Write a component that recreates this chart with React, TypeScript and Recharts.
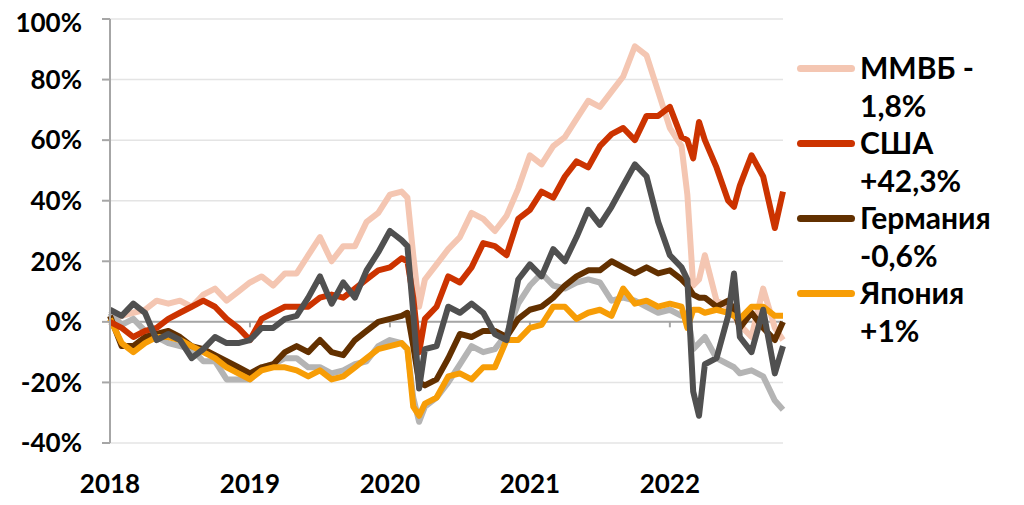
import { CartesianGrid, Line, LineChart, ReferenceLine, XAxis, YAxis } from "recharts";

// months since Jan 2018 (extra points around the two crashes)
const months = [0, 1, 2, 3, 4, 5, 6, 7, 8, 9, 10, 11, 12, 13, 14, 15, 16, 17, 18, 19, 20, 21, 22, 23, 24, 25, 25.5, 26, 26.5, 27, 28, 29, 30, 31, 32, 33, 34, 35, 36, 37, 38, 39, 40, 41, 42, 43, 44, 45, 46, 47, 48, 49, 49.5, 50, 50.5, 51, 52, 53, 53.5, 54, 55, 56, 57, 57.7];

const mmvb = [0, 2, 3, 4, 7, 6, 7, 5, 9, 11, 7, 10, 13, 15, 12, 16, 16, 22, 28, 20, 25, 25, 33, 36, 42, 43, 41, 22, 5, 14, 19, 24, 28, 36, 34, 30, 35, 44, 55, 52, 58, 61, 67, 73, 71, 76, 81, 91, 88, 76, 64, 58, 42, 12, 14, 22, 7, 5, 2, -1, -5, 11, -2, -6];
const usa = [0, -2, -5, -3, -2, 1, 3, 5, 7, 5, 1, -2, -6, 1, 3, 5, 5, 5, 8, 9, 8, 11, 14, 17, 18, 21, 20, 8, -10, 1, 5, 15, 13, 18, 26, 25, 22, 34, 37, 43, 41, 48, 53, 51, 58, 62, 64, 60, 68, 68, 71, 61, 60, 54, 66, 60, 51, 40, 38, 45, 55, 48, 31, 43];
const germany = [2, -8, -8, -5, -4, -3, -5, -8, -9, -11, -13, -15, -17, -15, -14, -10, -8, -10, -6, -10, -11, -6, -3, 0, 1, 2, 3, -8, -20, -21, -19, -12, -4, -5, -3, -3, -5, 1, 4, 5, 8, 12, 15, 17, 17, 20, 18, 16, 18, 16, 17, 14, 12, 9, 8, 8, 5, 7, 4, -2, 3, -2, -6, 0];
const japan = [1, -7, -10, -7, -5, -5, -6, -8, -10, -12, -15, -17, -19, -16, -15, -15, -16, -18, -16, -19, -18, -15, -12, -9, -8, -7, -9, -28, -31, -27, -25, -18, -17, -19, -15, -15, -6, -6, -2, -1, 5, 5, 1, 3, 4, 2, 11, 6, 7, 5, 6, 5, -2, 4, 4, 3, 4, 3, 2, 1, 5, 5, 2, 2];
const lightGrey = [3, -1, 1, -3, -5, -7, -8, -9, -13, -13, -19, -19, -19, -15, -14, -12, -12, -15, -15, -17, -16, -14, -13, -8, -6, -7, -9, -25, -33, -28, -25, -20, -14, -8, -10, -9, -4, 6, 12, 16, 12, 11, 13, 14, 13, 7, 8, 7, 5, 3, 4, 2, 3, -9, -7, -5, -12, -14, -15, -17, -16, -18, -26, -29];
const darkGrey = [4, 2, 6, 3, -6, -4, -6, -12, -9, -5, -7, -7, -6, -2, -2, 1, 2, 8, 15, 6, 13, 8, 17, 23, 30, 27, 25, 3, -22, -9, -8, 5, 3, 6, 3, -4, -6, 14, 19, 15, 24, 20, 28, 37, 32, 38, 45, 52, 48, 33, 22, 18, 14, -23, -31, -14, -12, 2, 16, -5, -10, 4, -17, -8];

const yearTicks = [0, 12, 24, 36, 48];
const yearLabels = ["2018", "2019", "2020", "2021", "2022"];
const yTicks = [-40, -20, 0, 20, 40, 60, 80, 100];

const legendItems = [
  { color: "#f4c6b2", lines: ["ММВБ -", "1,8%"] },
  { color: "#cc3300", lines: ["США", "+42,3%"] },
  { color: "#623000", lines: ["Германия", "-0,6%"] },
  { color: "#f79d06", lines: ["Япония", "+1%"] },
];

const data = months.map((m, i) => ({
  m,
  mmvb: mmvb[i],
  usa: usa[i],
  germany: germany[i],
  japan: japan[i],
  lightGrey: lightGrey[i],
  darkGrey: darkGrey[i],
}));

const font = "Lato, 'Open Sans', sans-serif";
const axisTick = { fill: "#000", fontSize: 26, fontWeight: 700, fontFamily: font };

function ChartLegend() {
  return (
    <div
      style={{
        position: "absolute",
        left: 789,
        top: 41,
        fontFamily: font,
        fontWeight: 700,
        fontSize: 30,
        color: "#000",
        lineHeight: "37.5px",
        whiteSpace: "nowrap",
      }}
    >
      {legendItems.map((item) => (
        <div key={item.lines[0]} style={{ position: "relative", paddingLeft: 63 }}>
          <span
            style={{
              position: "absolute",
              left: 0,
              top: 16,
              width: 58,
              height: 7,
              borderRadius: 4,
              background: item.color,
            }}
          />
          {item.lines.map((t) => (
            <div key={t}>{t}</div>
          ))}
        </div>
      ))}
    </div>
  );
}

export default function App() {
  return (
    <div style={{ width: 1000, height: 490, position: "relative" }}>
      <style>{".recharts-surface { overflow: visible; }"}</style>
      <LineChart width={1000} height={490} data={data} margin={{ top: 11, right: 225, bottom: 0, left: 0 }}>
        <CartesianGrid vertical={false} stroke="#e4e4e4" strokeWidth={1.5} />
        <XAxis
          dataKey="m"
          type="number"
          domain={[0, 57.7]}
          ticks={yearTicks}
          tickFormatter={(v) => yearLabels[yearTicks.indexOf(v)]}
          axisLine={false}
          tickLine={false}
          tickMargin={26}
          height={55}
          tick={axisTick}
        />
        <YAxis
          domain={[-40, 100]}
          ticks={yTicks}
          tickFormatter={(v) => `${v}%`}
          width={102}
          axisLine={{ stroke: "#a6a6a6", strokeWidth: 2 }}
          tickLine={{ stroke: "#a6a6a6", strokeWidth: 2 }}
          tickSize={8}
          tickMargin={20}
          tick={axisTick}
        />
        <ReferenceLine y={0} stroke="#a6a6a6" strokeWidth={2} />
        {yearTicks.slice(1).map((t) => (
          <ReferenceLine
            key={t}
            segment={[{ x: t, y: 0 }, { x: t, y: -1.8 }]}
            stroke="#a6a6a6"
            strokeWidth={2}
          />
        ))}
        <Line type="linear" dataKey="mmvb" stroke="#f4c6b2" strokeWidth={6} dot={false} isAnimationActive={false} strokeLinejoin="round" />
        <Line type="linear" dataKey="lightGrey" stroke="#b4b4b4" strokeWidth={6} dot={false} isAnimationActive={false} strokeLinejoin="round" />
        <Line type="linear" dataKey="germany" stroke="#623000" strokeWidth={6} dot={false} isAnimationActive={false} strokeLinejoin="round" />
        <Line type="linear" dataKey="japan" stroke="#f79d06" strokeWidth={6} dot={false} isAnimationActive={false} strokeLinejoin="round" />
        <Line type="linear" dataKey="usa" stroke="#cc3300" strokeWidth={6} dot={false} isAnimationActive={false} strokeLinejoin="round" />
        <Line type="linear" dataKey="darkGrey" stroke="#505050" strokeWidth={6} dot={false} isAnimationActive={false} strokeLinejoin="round" />
      </LineChart>
      <ChartLegend />
    </div>
  );
}
